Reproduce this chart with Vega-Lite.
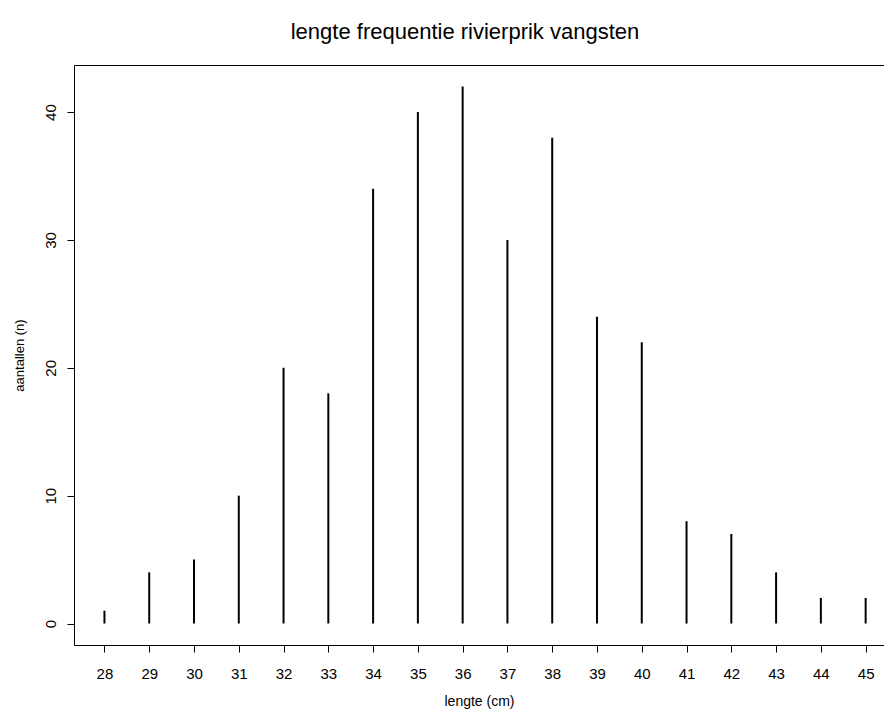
{
  "$schema": "https://vega.github.io/schema/vega-lite/v6.json",
  "autosize": {"type": "none"},
  "padding": {"left": 74, "top": 65, "right": 0, "bottom": 66},
  "width": 810,
  "height": 580,
  "background": "white",
  "config": {
    "font": "Liberation Sans",
    "view": {"stroke": "black", "strokeWidth": 1},
    "axis": {"grid": false, "domain": false, "tickColor": "black", "tickSize": 7, "labelColor": "black", "titleColor": "black", "labelFont": "Liberation Sans", "titleFont": "Liberation Sans", "titleFontWeight": "normal"}
  },
  "title": {"text": "lengte frequentie rivierprik vangsten", "fontSize": 22, "fontWeight": "normal", "font": "Liberation Sans", "color": "black", "offset": 21, "dx": -14},
  "data": {"values": [
    {"lengte": 28, "n": 1}, {"lengte": 29, "n": 4}, {"lengte": 30, "n": 5}, {"lengte": 31, "n": 10},
    {"lengte": 32, "n": 20}, {"lengte": 33, "n": 18}, {"lengte": 34, "n": 34}, {"lengte": 35, "n": 40},
    {"lengte": 36, "n": 42}, {"lengte": 37, "n": 30}, {"lengte": 38, "n": 38}, {"lengte": 39, "n": 24},
    {"lengte": 40, "n": 22}, {"lengte": 41, "n": 8}, {"lengte": 42, "n": 7}, {"lengte": 43, "n": 4},
    {"lengte": 44, "n": 2}, {"lengte": 45, "n": 2}
  ]},
  "mark": {"type": "rule", "color": "black", "strokeWidth": 2, "strokeCap": "butt"},
  "encoding": {
    "x": {"field": "lengte", "type": "quantitative", "scale": {"domain": [27.32, 45.41], "nice": false, "zero": false},
      "axis": {"values": [28,29,30,31,32,33,34,35,36,37,38,39,40,41,42,43,44,45], "title": "lengte (cm)", "labelFontSize": 15, "labelPadding": 14, "titleFontSize": 14, "titlePadding": 13}},
    "y": {"field": "n", "type": "quantitative", "scale": {"domain": [-1.68, 43.68], "nice": false, "zero": false},
      "axis": {"values": [0,10,20,30,40], "title": "aantallen (n)", "labelAngle": -90, "labelFontSize": 15, "labelPadding": 9, "titleFontSize": 13, "titlePadding": 17}},
    "y2": {"datum": 0}
  }
}
